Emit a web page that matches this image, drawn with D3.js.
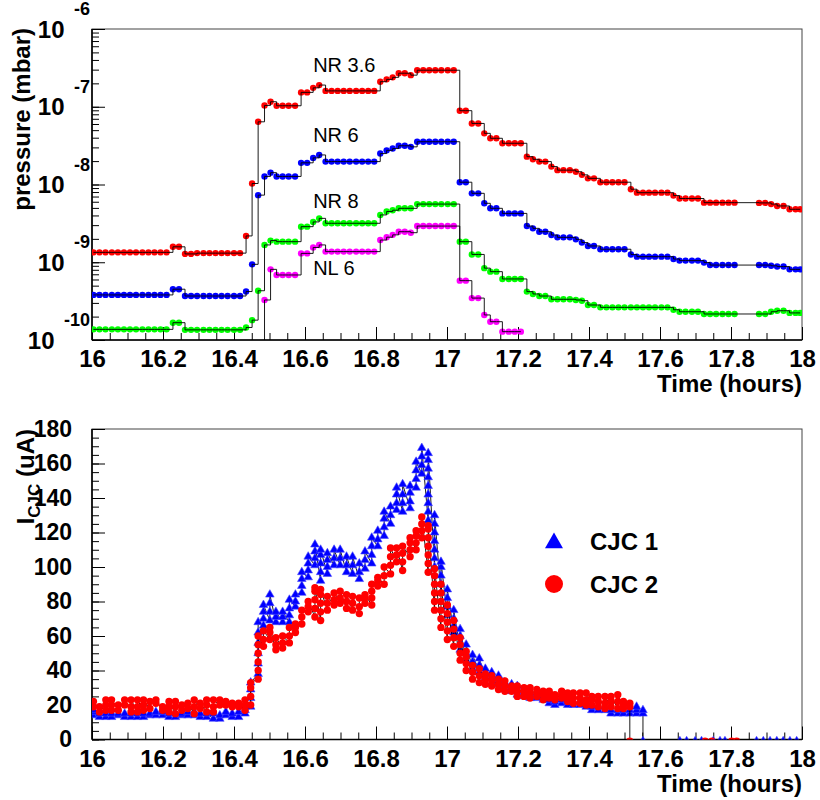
<!DOCTYPE html>
<html>
<head>
<meta charset="utf-8">
<script src="https://cdn.jsdelivr.net/npm/d3@7/dist/d3.min.js"></script>
<style>
  body { margin: 0; background: #fff; }
  text { font-family: "Liberation Sans", Arial, Helvetica, sans-serif; }
</style>
</head>
<body>
<svg id="chart" width="820" height="800"></svg>
<script>
// ---- top pad: vacuum gauges, one reading about every minute (nothing logged 17.81-17.88)
var pTimes = [
  16.004,16.021,16.038,16.056,16.073,16.090,16.107,16.124,16.142,16.159,
  16.176,16.193,16.210,16.228,16.245,16.262,16.279,16.296,16.314,16.331,
  16.348,16.365,16.382,16.400,16.417,16.434,16.451,16.468,16.486,16.503,
  16.520,16.537,16.554,16.572,16.589,16.606,16.623,16.640,16.658,16.675,
  16.692,16.709,16.726,16.744,16.761,16.778,16.795,16.812,16.830,16.847,
  16.864,16.881,16.898,16.916,16.933,16.950,16.967,16.984,17.002,17.019,
  17.036,17.053,17.070,17.088,17.105,17.122,17.139,17.156,17.174,17.191,
  17.208,17.225,17.242,17.260,17.277,17.294,17.311,17.328,17.346,17.363,
  17.380,17.397,17.414,17.432,17.449,17.466,17.483,17.500,17.518,17.535,
  17.552,17.569,17.586,17.604,17.621,17.638,17.655,17.672,17.690,17.707,
  17.724,17.741,17.758,17.776,17.793,17.810,
  17.879,17.896,17.913,17.930,17.948,17.965,17.982,17.995
];
var nr36 = [
  1.34e-9,1.34e-9,1.34e-9,1.34e-9,1.34e-9,1.34e-9,1.34e-9,1.34e-9,1.34e-9,1.34e-9,
  1.34e-9,1.34e-9,1.34e-9,1.58e-9,1.58e-9,1.28e-9,1.28e-9,1.31e-9,1.31e-9,1.31e-9,
  1.31e-9,1.31e-9,1.31e-9,1.31e-9,1.31e-9,2.18e-9,1.03e-8,6.4e-8,1.04e-7,1.16e-7,
  1.03e-7,1.03e-7,1.03e-7,1.03e-7,1.53e-7,1.53e-7,1.75e-7,1.9e-7,1.6e-7,1.6e-7,
  1.6e-7,1.6e-7,1.6e-7,1.6e-7,1.6e-7,1.6e-7,1.6e-7,2.1e-7,2.25e-7,2.39e-7,
  2.7e-7,2.7e-7,2.55e-7,2.95e-7,2.95e-7,2.95e-7,2.95e-7,2.95e-7,2.95e-7,2.95e-7,
  8.9e-8,8.9e-8,6.1e-8,6.1e-8,4.55e-8,3.93e-8,3.93e-8,3.39e-8,3.39e-8,3.39e-8,
  3.39e-8,2.28e-8,2.11e-8,1.97e-8,1.97e-8,1.7e-8,1.53e-8,1.53e-8,1.53e-8,1.46e-8,
  1.33e-8,1.2e-8,1.2e-8,1.07e-8,1.07e-8,1.07e-8,1.07e-8,1.07e-8,8.7e-9,7.85e-9,
  7.85e-9,7.85e-9,7.85e-9,7.85e-9,7.85e-9,7.2e-9,6.6e-9,6.6e-9,6.6e-9,6.6e-9,
  5.84e-9,5.84e-9,5.84e-9,5.84e-9,5.84e-9,5.84e-9,
  5.8e-9,5.8e-9,5.6e-9,5.3e-9,5.3e-9,4.8e-9,4.8e-9,4.8e-9
];
var nr6 = [
  3.8e-10,3.8e-10,3.8e-10,3.8e-10,3.8e-10,3.8e-10,3.8e-10,3.8e-10,3.8e-10,3.8e-10,
  3.8e-10,3.8e-10,3.8e-10,4.5e-10,4.5e-10,3.68e-10,3.68e-10,3.68e-10,3.68e-10,3.68e-10,
  3.68e-10,3.68e-10,3.68e-10,3.68e-10,3.68e-10,4.2e-10,9.4e-10,7.3e-9,1.27e-8,1.42e-8,
  1.27e-8,1.27e-8,1.27e-8,1.27e-8,1.9e-8,1.9e-8,2.2e-8,2.4e-8,1.97e-8,1.97e-8,
  1.97e-8,1.97e-8,1.97e-8,1.97e-8,1.97e-8,1.97e-8,1.97e-8,2.5e-8,2.75e-8,2.9e-8,
  3.15e-8,3.15e-8,3.05e-8,3.55e-8,3.55e-8,3.55e-8,3.55e-8,3.55e-8,3.55e-8,3.55e-8,
  1.07e-8,1.07e-8,7.7e-9,7.7e-9,5.73e-9,4.94e-9,4.94e-9,4.25e-9,4.25e-9,4.25e-9,
  4.25e-9,2.92e-9,2.73e-9,2.47e-9,2.47e-9,2.24e-9,2.09e-9,2.09e-9,2.09e-9,1.97e-9,
  1.79e-9,1.62e-9,1.62e-9,1.47e-9,1.47e-9,1.47e-9,1.47e-9,1.47e-9,1.26e-9,1.18e-9,
  1.18e-9,1.18e-9,1.18e-9,1.18e-9,1.18e-9,1.1e-9,1.05e-9,1.05e-9,1.05e-9,1.05e-9,
  9.9e-10,9.2e-10,9.2e-10,9.2e-10,9.2e-10,9.2e-10,
  9.2e-10,9.2e-10,9.0e-10,8.8e-10,8.8e-10,8.1e-10,8.1e-10,8.1e-10
];
var nr8 = [
  1.37e-10,1.37e-10,1.37e-10,1.37e-10,1.37e-10,1.37e-10,1.37e-10,1.37e-10,1.37e-10,1.37e-10,
  1.37e-10,1.37e-10,1.37e-10,1.67e-10,1.67e-10,1.35e-10,1.35e-10,1.35e-10,1.35e-10,1.35e-10,
  1.35e-10,1.35e-10,1.35e-10,1.35e-10,1.35e-10,1.45e-10,1.8e-10,4.3e-10,1.67e-9,1.9e-9,
  1.84e-9,1.84e-9,1.84e-9,1.84e-9,2.87e-9,2.87e-9,3.3e-9,3.67e-9,3.17e-9,3.17e-9,
  3.17e-9,3.17e-9,3.17e-9,3.17e-9,3.17e-9,3.17e-9,3.17e-9,4.06e-9,4.5e-9,4.67e-9,
  4.94e-9,4.94e-9,4.94e-9,5.6e-9,5.6e-9,5.6e-9,5.6e-9,5.6e-9,5.6e-9,5.6e-9,
  1.84e-9,1.84e-9,1.26e-9,1.26e-9,8.4e-10,7.57e-10,7.57e-10,6.1e-10,6.1e-10,6.1e-10,
  6.1e-10,4.19e-10,3.91e-10,3.68e-10,3.68e-10,3.34e-10,3.34e-10,3.34e-10,3.34e-10,3.27e-10,
  3.2e-10,2.82e-10,2.82e-10,2.63e-10,2.63e-10,2.63e-10,2.63e-10,2.63e-10,2.63e-10,2.63e-10,
  2.63e-10,2.63e-10,2.63e-10,2.63e-10,2.63e-10,2.45e-10,2.31e-10,2.31e-10,2.31e-10,2.31e-10,
  2.16e-10,2.16e-10,2.16e-10,2.16e-10,2.16e-10,2.16e-10,
  2.16e-10,2.16e-10,2.31e-10,2.38e-10,2.38e-10,2.23e-10,2.23e-10,2.23e-10
];
// NL 6 is below 1e-10 outside 16.48-17.21
var nl6 = [
  null,null,null,null,null,null,null,null,null,null,
  null,null,null,null,null,null,null,null,null,null,
  null,null,null,null,null,null,null,6e-11,3.27e-10,8.1e-10,
  6.86e-10,6.86e-10,6.86e-10,6.86e-10,1.3e-9,1.3e-9,1.55e-9,1.67e-9,1.37e-9,1.37e-9,
  1.37e-9,1.37e-9,1.37e-9,1.37e-9,1.37e-9,1.37e-9,1.37e-9,1.93e-9,2.1e-9,2.25e-9,
  2.47e-9,2.47e-9,2.4e-9,2.92e-9,2.92e-9,2.92e-9,2.92e-9,2.92e-9,2.92e-9,2.92e-9,
  5.8e-10,5.8e-10,3.46e-10,3.46e-10,2.1e-10,1.72e-10,1.72e-10,1.28e-10,1.28e-10,1.28e-10,
  1.28e-10
];
var gaugeNames = ["NR 3.6", "NR 6", "NR 8", "NL 6"];
var gaugeColors = ["#ff0000", "#0000ff", "#00ff00", "#ff00ff"];
var gaugeLabelAt = [[16.623, 2.8e-7], [16.623, 3.5e-8], [16.623, 5.0e-9], [16.623, 6.9e-10]];

// ---- bottom pad: chamber currents, rows are [time, reading, reading, ...]
var cjc1 = [
  [16.004,14,16,17],[16.021,13,15],[16.039,13,15],[16.055,13,15],[16.074,14,15],
  [16.092,13,15],[16.110,13,15],[16.128,13,15],[16.145,13,15],[16.163,14,15],
  [16.180,14,16],[16.199,14,16,17],[16.217,13,15],[16.235,13,15],[16.253,14,15],
  [16.270,14,16],[16.288,14,16],[16.305,13,15],[16.323,13,15],[16.342,12,15],
  [16.360,12,14],[16.377,14,16],[16.395,13,15],[16.413,13,16],[16.431,15,17,19],
  [16.447,19,24,29,33],[16.468,38,44,50,56,62,68],[16.483,66,70,74,78],[16.501,69,74,79,84],
  [16.518,68,71,74],[16.537,68,71,74],[16.556,68,72,76,81],[16.573,77,80,84],
  [16.591,85,89,93,97],[16.609,94,98,102,106],[16.628,101,105,109,113],[16.644,92,97,102,107,110],
  [16.663,96,100,104,108],[16.682,101,105,110],[16.699,101,105,110],[16.717,97,101,106],
  [16.734,96,101,106],[16.753,93,97,102],[16.769,99,104,109],[16.788,102,107,112,117],
  [16.805,112,116,121],[16.823,118,123,128,132],[16.841,125,130,135],[16.858,133,137,142,146],
  [16.875,132,137,142,148],[16.896,134,138,143,147],[16.913,146,151,156,161],[16.929,154,159,164,169],
  [16.947,127,132,137,142,147,152,157,162,166],[16.965,100,105,110,115,120,125,130],
  [16.983,85,90,95,100,103],[17.001,72,77,82,87],[17.019,62,66,70,75],[17.037,52,56,60,64],
  [17.054,46,50,55],[17.072,41,45,49],[17.091,39,43,47],[17.108,36,38,41],[17.126,33,36,39],
  [17.145,32,34,37],[17.163,29,31,33],[17.182,28,30,32],[17.198,26,28,31],[17.217,25,27,29],
  [17.234,24,26,27],[17.253,24,25,27],[17.271,23,25],[17.288,21,23,24],[17.304,20,22,24],
  [17.323,21,23,24],[17.340,20,22,23],[17.356,20,22],[17.375,20,22],[17.392,19,21],
  [17.408,17,19],[17.426,17,19],[17.445,17,19],[17.462,15,17],[17.481,15,17],
  [17.497,15,17],[17.515,15,17],[17.534,15,17,19],[17.552,15,17,-1],
  [17.656,-1],[17.675,-1],[17.699,-1],[17.717,-1],[17.750,-1],[17.769,-1],[17.783,-1],
  [17.872,-1],[17.891,-1],[17.910,-1],[17.929,-1],[17.947,-1],[17.966,-1],[17.985,-1]
];
var cjc2 = [
  [16.004,19,22],[16.021,16,19],[16.039,17,20,23],[16.055,17,20,23],[16.074,17,20],
  [16.092,20,23],[16.110,16,19,23],[16.128,16,19,23],[16.145,17,20,23],[16.163,18,22],
  [16.180,21,23],[16.199,17,19],[16.217,16,19,22],[16.235,15,19,22],[16.253,17,20],
  [16.270,18,21],[16.288,15,19,23],[16.305,18,21],[16.323,16,20,23],[16.342,16,19,23],
  [16.360,20,23],[16.377,20,22],[16.395,19,21],[16.413,19,21],[16.431,17,20,23],
  [16.447,20,25,30,33],[16.468,35,40,45,50,55,60],[16.483,54,58,63],[16.501,58,62,65],
  [16.518,52,55,59],[16.537,53,56,60],[16.556,56,60,65],[16.573,62,65,67],
  [16.591,67,71,75],[16.609,74,77,80],[16.628,71,76,81,86,88],[16.644,69,74,79,84,87],
  [16.663,75,79,83],[16.682,78,81,85],[16.699,79,82,86],[16.717,76,80,84],
  [16.734,75,79,83],[16.753,73,77,82],[16.769,79,82,84],[16.788,78,82,86,90],
  [16.805,89,92,94],[16.823,90,95,100],[16.841,96,101,106,111],[16.858,103,107,111],
  [16.875,98,103,108,112],[16.896,106,110,114,117],[16.913,110,114,118,121],[16.929,117,121,125,129],
  [16.947,97,102,107,112,117,122,124],[16.965,75,80,85,90,95,99],
  [16.983,65,70,75,80,85,90],[17.001,58,63,68,73,78],[17.019,54,59,64,69],[17.037,46,50,55,59],
  [17.054,40,44,48,51],[17.072,35,39,43],[17.091,33,37,41],[17.108,32,35,38],[17.126,31,34,37],
  [17.145,29,32,35],[17.163,28,31,34],[17.182,28,30,31],[17.198,25,28,31],[17.217,25,28,30],
  [17.234,24,27,30],[17.253,25,27,29],[17.271,23,26,28],[17.288,24,26,28],[17.304,23,25,26],
  [17.323,24,26,28],[17.340,22,25,27],[17.356,21,24,27],[17.375,21,24,27],[17.392,20,23,27],
  [17.408,20,23,25],[17.426,19,22,25],[17.445,18,21,25],[17.462,19,22,25],[17.481,18,22,26],
  [17.497,18,20,22],[17.515,19,21,-1],
  [17.727,-1],[17.746,-1],[17.802,-1],[17.816,-1]
];
var cjcNames = ["CJC 1", "CJC 2"];

var svg = d3.select("#chart");
var x1 = d3.scaleLinear().domain([16, 18]).range([92, 802]);
var y1 = d3.scaleLog().domain([1e-10, 1e-6]).range([340, 29]);
var x2 = d3.scaleLinear().domain([16, 18]).range([92, 802]);
var y2 = d3.scaleLinear().domain([0, 180]).range([739.5, 429]);

var defs = svg.append("defs");
defs.append("clipPath").attr("id", "clipTop").append("rect")
  .attr("x", 92).attr("y", 29).attr("width", 710).attr("height", 311);
defs.append("clipPath").attr("id", "clipBot").append("rect")
  .attr("x", 92).attr("y", 429).attr("width", 710).attr("height", 310.5);

function fmtX(d){ return String(+d.toFixed(1)); }

function xAxis(x, y0){
  var gm = svg.append("g").attr("transform", "translate(0," + y0 + ")")
    .call(d3.axisBottom(x).tickValues(x.ticks(40)).tickSize(-7).tickFormat(""));
  var gM = svg.append("g").attr("transform", "translate(0," + y0 + ")")
    .call(d3.axisBottom(x).tickValues(x.ticks(10)).tickSize(-13).tickPadding(10).tickFormat(fmtX));
  [gm, gM].forEach(function(g){
    g.select(".domain").remove();
    g.selectAll(".tick line").attr("stroke", "#000").attr("stroke-width", 1);
  });
  gM.selectAll("text").attr("font-size", 24).attr("font-weight", "bold")
    .attr("fill", "#000").attr("font-family", "Liberation Sans, Arial, sans-serif");
}

// frames
function frame(t, b){
  svg.append("rect").attr("x", 92).attr("y", t).attr("width", 710).attr("height", b - t)
    .attr("fill", "none").attr("stroke", "#444").attr("stroke-width", 1);
  svg.append("line").attr("x1", 92).attr("x2", 92).attr("y1", t).attr("y2", b)
    .attr("stroke", "#000").attr("stroke-width", 1.6);
  svg.append("line").attr("x1", 92).attr("x2", 802).attr("y1", b).attr("y2", b)
    .attr("stroke", "#000").attr("stroke-width", 1.6);
}
frame(29, 340);
frame(429, 739.5);

// ---------- top pad ----------
xAxis(x1, 340);
var allTicks = y1.ticks();
var decades = allTicks.filter(function(d){ return Math.abs(Math.log10(d) - Math.round(Math.log10(d))) < 1e-6; });
var gy = svg.append("g").attr("transform", "translate(92,0)")
  .call(d3.axisLeft(y1).tickValues(allTicks).tickSize(-7).tickFormat(""));
var gy2 = svg.append("g").attr("transform", "translate(92,0)")
  .call(d3.axisLeft(y1).tickValues(decades).tickSize(-13).tickFormat(""));
[gy, gy2].forEach(function(g){
  g.select(".domain").remove();
  g.selectAll(".tick line").attr("stroke", "#000");
});
decades.forEach(function(d){
  var e = Math.round(Math.log10(d));
  var yy = y1(d);
  var ex = svg.append("text").attr("x", 90).attr("y", yy - 14)
    .attr("text-anchor", "end").attr("font-size", 18).attr("font-weight", "bold").text(String(e));
  var w = ex.node().getComputedTextLength();
  svg.append("text").attr("x", 90 - w - 9.5).attr("y", yy + 8.5)
    .attr("text-anchor", "end").attr("font-size", 24).attr("font-weight", "bold").text("10");
});

var gTop = svg.append("g").attr("clip-path", "url(#clipTop)");
var gaugeSeries = [nr36, nr6, nr8, nl6];
var stepLine = d3.line()
  .defined(function(d){ return d.v != null; })
  .x(function(d){ return x1(d.t); })
  .y(function(d){ return y1(d.v); })
  .curve(d3.curveStepAfter);
gaugeSeries.forEach(function(vals, k){
  var pts = pTimes.map(function(t, i){ return {t: t, v: vals[i]}; });
  var ok = pts.filter(function(d){ return d.v != null; });
  gTop.selectAll(null).data(ok).enter().append("circle")
    .attr("cx", function(d){ return x1(d.t); })
    .attr("cy", function(d){ return y1(d.v); })
    .attr("r", 3.2)
    .attr("fill", gaugeColors[k]);
  gTop.append("path").datum(pts).attr("d", stepLine)
    .attr("fill", "none").attr("stroke", "#000").attr("stroke-width", 0.9);
});
gaugeNames.forEach(function(n, k){
  svg.append("text").attr("x", x1(gaugeLabelAt[k][0])).attr("y", y1(gaugeLabelAt[k][1]))
    .attr("font-size", 20).attr("fill", "#000").text(n);
});

svg.append("text").attr("x", 802).attr("y", 392).attr("text-anchor", "end")
  .attr("font-size", 24).attr("font-weight", "bold").text("Time (hours)");
svg.append("text").attr("transform", "translate(30,28) rotate(-90)").attr("text-anchor", "end")
  .attr("font-size", 24).attr("font-weight", "bold").text("pressure (mbar)");

// ---------- bottom pad ----------
xAxis(x2, 739.5);
var gb = svg.append("g").attr("transform", "translate(92,0)")
  .call(d3.axisLeft(y2).tickValues(y2.ticks(36)).tickSize(-7).tickFormat(""));
var gb2 = svg.append("g").attr("transform", "translate(92,0)")
  .call(d3.axisLeft(y2).tickValues(y2.ticks(9)).tickSize(-13).tickPadding(20).tickFormat(d3.format("d")));
[gb, gb2].forEach(function(g){
  g.select(".domain").remove();
  g.selectAll(".tick line").attr("stroke", "#000");
});
gb2.selectAll("text").attr("font-size", 23).attr("font-weight", "bold")
  .attr("fill", "#000").attr("font-family", "Liberation Sans, Arial, sans-serif");

var gBot = svg.append("g").attr("clip-path", "url(#clipBot)");
var plainLine = d3.line().x(function(d){ return x2(d.t); }).y(function(d){ return y2(d.v); });
function flatten(rows){
  var out = [];
  rows.forEach(function(r){
    r.slice(1).forEach(function(v){ out.push({t: r[0], v: v}); });
  });
  return out;
}
var tri = d3.symbol().type(d3.symbolTriangle).size(32);
var bigTri = d3.symbol().type(d3.symbolTriangle).size(140);

var p1 = flatten(cjc1), p2 = flatten(cjc2);
gBot.append("path").datum(p1).attr("d", plainLine)
  .attr("fill", "none").attr("stroke", "#000").attr("stroke-width", 0.9);
gBot.selectAll(null).data(p1).enter().append("path")
  .attr("d", tri)
  .attr("transform", function(d){ return "translate(" + x2(d.t) + "," + y2(d.v) + ")"; })
  .attr("fill", "#0000ff").attr("stroke", "#4848ff").attr("stroke-width", 0.6);
gBot.append("path").datum(p2).attr("d", plainLine)
  .attr("fill", "none").attr("stroke", "#000").attr("stroke-width", 0.9);
gBot.selectAll(null).data(p2).enter().append("circle")
  .attr("cx", function(d){ return x2(d.t); })
  .attr("cy", function(d){ return y2(d.v); })
  .attr("r", 3.7).attr("fill", "#ff0000");

// legend
svg.append("path").attr("d", bigTri).attr("transform", "translate(554,543)").attr("fill", "#0000ff");
svg.append("circle").attr("cx", 554).attr("cy", 584).attr("r", 9).attr("fill", "#ff0000");
svg.append("text").attr("x", 590).attr("y", 550).attr("font-size", 24).attr("font-weight", "bold").text(cjcNames[0]);
svg.append("text").attr("x", 590).attr("y", 593).attr("font-size", 24).attr("font-weight", "bold").text(cjcNames[1]);

svg.append("text").attr("x", 802).attr("y", 792).attr("text-anchor", "end")
  .attr("font-size", 24).attr("font-weight", "bold").text("Time (hours)");
var yt = svg.append("text").attr("transform", "translate(34,429) rotate(-90)").attr("text-anchor", "end")
  .attr("font-size", 24).attr("font-weight", "bold");
yt.append("tspan").text("I");
yt.append("tspan").attr("font-size", 17).attr("dy", 6).text("CJC");
yt.append("tspan").attr("dy", -6).text(" (uA)");
</script>
</body>
</html>
